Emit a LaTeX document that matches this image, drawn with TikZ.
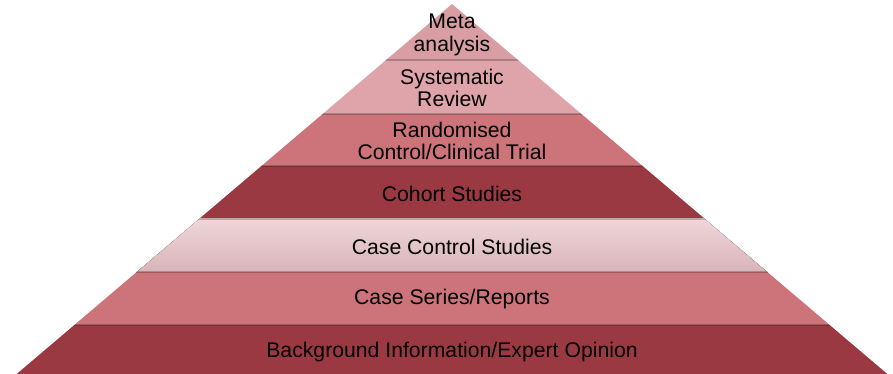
\documentclass[tikz,border=0pt]{standalone}
\usepackage{fontspec}
\setmainfont{Liberation Sans}
\definecolor{pyrdark}{RGB}{155,57,66}
\definecolor{pyrmid}{RGB}{204,116,122}
\definecolor{pyrlight}{RGB}{223,164,170}
\definecolor{pyrtop}{RGB}{216,158,163}
\definecolor{pyrpaletop}{RGB}{239,214,217}
\definecolor{pyrpalebot}{RGB}{216,180,184}
\begin{document}
\begin{tikzpicture}[x=0.03cm,y=-0.03cm,
	lbl/.style={align=center,font=\fontsize{18.1}{19.2}\selectfont,inner sep=0pt},
	seam/.style={draw=black,opacity=.22,line width=1.2}]
	\useasboundingbox (0,0) rectangle (893,374);
	% soft shadow along the slanted sides
	\fill[black,opacity=.12] (454,6) -- (14,381) -- (895,381) -- cycle;
	\begin{scope}
		\clip (452,4) -- (12,378) -- (892,378) -- cycle;
		\foreach \top/\bot/\col in {4/60/pyrtop,60/114/pyrlight,114/166/pyrmid,166/219/pyrdark,272/325/pyrmid,325/380/pyrdark}
			\fill[\col] (0,\top) rectangle (893,\bot);
		\fill[top color=pyrpaletop,bottom color=pyrpalebot] (0,219) rectangle (893,272);
		\foreach \bot in {60,114,166,219,272,325}
			\draw[seam] (0,\bot) -- (893,\bot);
	\end{scope}
	% labels
	\node[lbl] (meta) at (452,35) {Meta\\analysis};
	\node[lbl] (sysrev) at (452,88) {Systematic\\Review};
	\node[lbl] (rct) at (452,141) {Randomised\\Control/Clinical Trial};
	\node[lbl] (cohort) at (452,193.5) {Cohort Studies};
	\node[lbl] (casectl) at (452,246.5) {Case Control Studies};
	\node[lbl] (caseser) at (452,299.5) {Case Series/Reports};
	\node[lbl] (backgr) at (452,352.5) {Background Information/Expert Opinion};
\end{tikzpicture}
\end{document}
